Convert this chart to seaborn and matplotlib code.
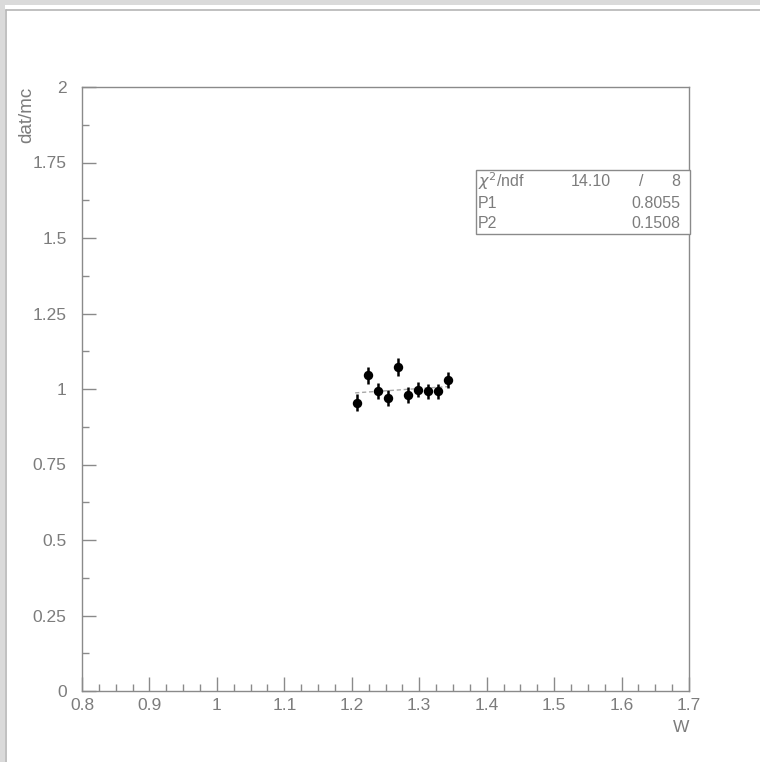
import numpy as np
import pandas as pd
import matplotlib
matplotlib.use("Agg")
import matplotlib.pyplot as plt
import seaborn as sns
from matplotlib.ticker import MultipleLocator
from matplotlib.patches import Rectangle
from matplotlib.lines import Line2D

# ---- data ----
w_vals = [1.208, 1.224, 1.239, 1.253, 1.268, 1.283, 1.298, 1.313, 1.328, 1.343]
ratio = [0.954, 1.046, 0.993, 0.971, 1.074, 0.979, 0.997, 0.992, 0.992, 1.030]
err = [0.028, 0.028, 0.027, 0.026, 0.030, 0.026, 0.025, 0.025, 0.025, 0.026]
fit_range = [1.205, 1.345]
p1, p2 = 0.8055, 0.1508
chi2, ndf = "14.10", "8"
xticks = [0.8, 0.9, 1.0, 1.1, 1.2, 1.3, 1.4, 1.5, 1.6, 1.7]
xticklabels = ["0.8", "0.9", "1", "1.1", "1.2", "1.3", "1.4", "1.5", "1.6", "1.7"]
yticks = [0, 0.25, 0.5, 0.75, 1.0, 1.25, 1.5, 1.75, 2.0]
yticklabels = ["0", "0.25", "0.5", "0.75", "1", "1.25", "1.5", "1.75", "2"]

df = pd.DataFrame({"W": w_vals, "ratio": ratio, "err": err})
fit_df = pd.DataFrame({"W": fit_range, "fit": [p1 + p2 * x for x in fit_range]})

sns.set_theme(style="white")
plt.rcParams["font.family"] = ["Liberation Sans", "DejaVu Sans"]
TXT = "#7c7c7c"
AX = "#8a8a8a"

W, H = 760, 762
fig = plt.figure(figsize=(W / 100, H / 100), dpi=100)
fig.patch.set_facecolor("#dadada")
# white canvas panel with frame lines
fig.add_artist(Rectangle((5 / W, 0), 1, 1 - 5 / H, transform=fig.transFigure,
                         facecolor="white", edgecolor="none", zorder=-10))
fig.add_artist(Line2D([5.5 / W, 1], [1 - 9.5 / H, 1 - 9.5 / H], transform=fig.transFigure,
                      color="#b5b5b5", lw=1.2))
fig.add_artist(Line2D([5.5 / W, 5.5 / W], [0, 1 - 9.5 / H], transform=fig.transFigure,
                      color="#b5b5b5", lw=1.2))

left, right = 82 / W, 689 / W
bottom, top = 1 - 691 / H, 1 - 87 / H
ax = fig.add_axes([left, bottom, right - left, top - bottom])
ax.set_facecolor("white")

# fit line
sns.lineplot(data=fit_df, x="W", y="fit", ax=ax, color="#a8a8a8", lw=1.0,
             linestyle=(0, (3, 2)), zorder=2)
# error bars
ax.errorbar(df["W"], df["ratio"], yerr=df["err"], fmt="none", ecolor="black",
            elinewidth=1.8, capsize=0, zorder=3)
# points
sns.scatterplot(data=df, x="W", y="ratio", ax=ax, color="black", s=46,
                edgecolor="black", linewidth=0, zorder=4)

ax.set_xlim(0.8, 1.7)
ax.set_ylim(0, 2)
ax.set_xticks(xticks)
ax.set_xticklabels(xticklabels)
ax.set_yticks(yticks)
ax.set_yticklabels(yticklabels)
ax.xaxis.set_minor_locator(MultipleLocator(0.025))
ax.yaxis.set_minor_locator(MultipleLocator(0.125))
ax.tick_params(axis="both", which="both", direction="in", colors=AX,
               labelcolor=TXT, labelsize=12.5, width=1.0)
ax.tick_params(axis="both", which="major", length=10)
ax.tick_params(axis="both", which="minor", length=5)
ax.tick_params(axis="x", which="major", pad=5)
ax.tick_params(axis="y", which="major", pad=11)
ax.tick_params(top=False, right=False, bottom=True, left=True, which="both")
for s in ax.spines.values():
    s.set_color(AX)
    s.set_linewidth(1.0)
    s.set_visible(True)
ax.set_xlabel("")
ax.set_ylabel("")

fig.text(27 / W, 1 - 87 / H, "dat/mc", rotation=90, ha="center", va="top",
         fontsize=13.5, color=TXT)
fig.text(689 / W, 1 - 727 / H, "W", ha="right", va="center", fontsize=12.5, color=TXT)

# stats box
bx0, bx1 = 476 / W, 690 / W
by0, by1 = 1 - 234 / H, 1 - 170 / H
fig.add_artist(Rectangle((bx0, by0), bx1 - bx0, by1 - by0, transform=fig.transFigure,
                         facecolor="white", edgecolor="#8a8a8a", lw=1.0, zorder=5))
rows_y = [181, 203, 224]
fs = 11.5
fig.text(478 / W, 1 - rows_y[0] / H, r"$\chi^{2}$/ndf", ha="left", va="center",
         fontsize=fs, color=TXT, zorder=6)
fig.text(611 / W, 1 - rows_y[0] / H, chi2, ha="right", va="center", fontsize=fs,
         color=TXT, zorder=6)
fig.text(641 / W, 1 - rows_y[0] / H, "/", ha="center", va="center", fontsize=fs,
         color=TXT, zorder=6)
fig.text(680 / W, 1 - rows_y[0] / H, ndf, ha="right", va="center", fontsize=fs,
         color=TXT, zorder=6)
fig.text(478 / W, 1 - rows_y[1] / H, "P1", ha="left", va="center", fontsize=fs,
         color=TXT, zorder=6)
fig.text(680 / W, 1 - rows_y[1] / H, f"{p1:.4f}", ha="right", va="center", fontsize=fs,
         color=TXT, zorder=6)
fig.text(478 / W, 1 - rows_y[2] / H, "P2", ha="left", va="center", fontsize=fs,
         color=TXT, zorder=6)
fig.text(680 / W, 1 - rows_y[2] / H, f"{p2:.4f}", ha="right", va="center", fontsize=fs,
         color=TXT, zorder=6)

fig.savefig("out.png", dpi=100, facecolor=fig.get_facecolor())
